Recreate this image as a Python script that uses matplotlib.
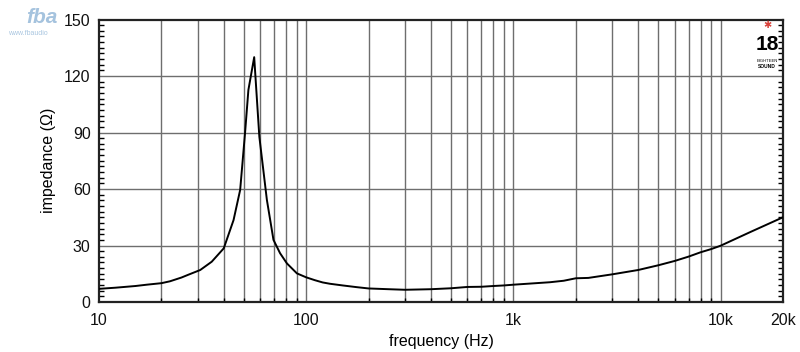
import numpy as np
import matplotlib
matplotlib.use("Agg")
import matplotlib.pyplot as plt
from matplotlib.ticker import FixedLocator, NullFormatter

plt.rcParams['font.family'] = ['Liberation Sans', 'DejaVu Sans']

# impedance curve (Hz, ohm)
freq = [10, 12, 15, 17, 20, 22, 25, 27, 30.8, 35, 40, 44.6, 48, 50.7, 52.6,
        56.1, 59.4, 64.6, 69.5, 74.8, 80.7, 90.2, 100, 110, 120, 130, 150, 175,
        200, 250, 300, 400, 500, 600, 700, 800, 900, 1000, 1500, 1750, 2000,
        2300, 3000, 4000, 5000, 6000, 7000, 8000, 9000, 10000, 14000, 20000]
imp = [7.0, 7.6, 8.5, 9.2, 10.0, 11.0, 13.0, 14.5, 17.0, 21.4, 28.5, 43.5,
       59.5, 90.0, 112.6, 130.0, 87.8, 54.2, 33.0, 25.9, 20.5, 15.2, 13.1,
       11.6, 10.4, 9.7, 8.8, 7.9, 7.2, 6.8, 6.5, 6.8, 7.3, 8.0, 8.1, 8.5, 8.8,
       9.2, 10.5, 11.3, 12.6, 12.8, 14.7, 17.0, 19.5, 21.8, 24.1, 26.4, 28.1,
       29.9, 37.3, 45.0]

x_ticks = [10, 100, 1000, 10000, 20000]
x_labels = ["10", "100", "1k", "10k", "20k"]
y_ticks = [0, 30, 60, 90, 120, 150]

fig = plt.figure(figsize=(8, 3.52), dpi=100)
ax = fig.add_axes([0.12375, 0.142, 0.855, 0.8026])

ax.set_xscale("log")
ax.set_xlim(10, 20000)
ax.set_ylim(0, 150)

# grid lines at 20..90, 200..900, ... plus y every 30
grid_f = [m * 10 ** d for d in range(1, 5) for m in range(1, 10)]
grid_f = [f for f in grid_f if 10 < f < 20000]
for f in grid_f:
    ax.axvline(f, color="#6e6e6e", lw=1.0, zorder=1)
for v in y_ticks[1:-1]:
    ax.axhline(v, color="#6e6e6e", lw=1.0, zorder=1)

ax.plot(freq, imp, color="black", lw=1.4, zorder=3)

ax.xaxis.set_major_locator(FixedLocator(x_ticks))
ax.set_xticklabels(x_labels)
ax.xaxis.set_minor_locator(FixedLocator(grid_f))
ax.xaxis.set_minor_formatter(NullFormatter())
ax.set_yticks(y_ticks)
ax.yaxis.set_minor_locator(FixedLocator(np.arange(0, 151, 3)))

ax.tick_params(axis="both", which="major", length=0, labelsize=11.5, colors="#111111")
ax.tick_params(axis="x", which="major", pad=8)
ax.tick_params(axis="y", which="major", pad=6)
ax.tick_params(axis="y", which="minor", direction="in", length=3.5, width=1.0,
               left=True, right=True)
ax.tick_params(axis="x", which="minor", direction="in", length=3, width=1.0)

for s in ax.spines.values():
    s.set_linewidth(1.6)
    s.set_color("#222222")

ax.set_xlabel("frequency (Hz)", fontsize=11.5, labelpad=4)
ax.set_ylabel("impedance (Ω)", fontsize=11.5, labelpad=6)

# logos
fig.text(0.052, 0.95, "fba", fontsize=15, fontstyle="italic", fontweight="bold",
         color="#8fb4d6", alpha=0.8, ha="center", va="center", zorder=0)
fig.text(0.035, 0.905, "www.fbaudio", fontsize=5, color="#a9c6e0", ha="center",
         va="center")
fig.text(0.959, 0.93, "✱", fontsize=7, color="#d9413a", ha="center", va="center",
         family="DejaVu Sans")
fig.text(0.959, 0.875, "18", fontsize=15, fontweight="bold", color="black",
         ha="center", va="center")
fig.text(0.959, 0.828, "EIGHTEEN", fontsize=3, color="black", ha="center", va="center")
fig.text(0.959, 0.81, "SOUND", fontsize=3.5, fontweight="bold", color="black",
         ha="center", va="center")

fig.savefig("out.png", dpi=100)
